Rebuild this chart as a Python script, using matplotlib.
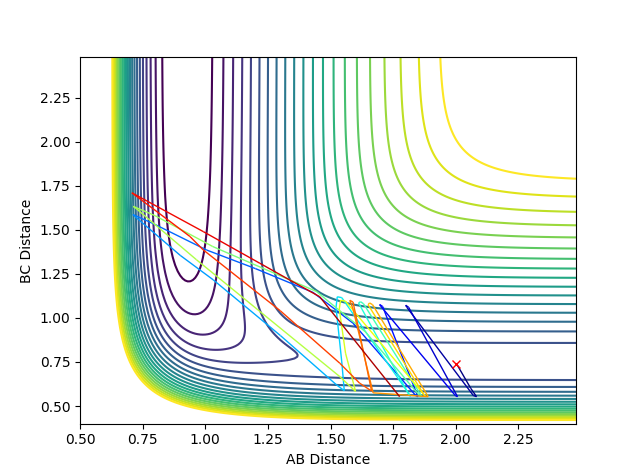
import numpy as np
import matplotlib
matplotlib.use("Agg")
import matplotlib.pyplot as plt
from matplotlib.collections import LineCollection

# ---- LEPS surface parameters (F + H2: AB = F-H, BC = H-H, AC = F-H) ----
D_HF, BETA_HF, RE_HF, SATO_HF = 5.97, 2.2187, 0.917, 0.19
D_HH, BETA_HH, RE_HH, SATO_HH = 4.7466, 1.942, 0.7417, 0.13

ab_grid = np.linspace(0.5, 2.48, 199)
bc_grid = np.linspace(0.4, 2.48, 209)

n_levels = 21
edge_ab = 2.48
edge_bc_level5 = 0.858
edge_bc_level20 = 1.79

# ---- trajectory (AB, BC), with colour fraction (jet) ----
traj_ab = [2.003, 2.060, 2.083, 2.070, 1.805, 1.800, 1.812, 2.007,
           1.998, 1.700, 1.696, 1.708, 1.849,
           1.840, 1.590, 1.430, 1.200, 1.006, 0.800, 0.711, 0.720,
           0.900, 1.032, 1.300, 1.524, 1.555,
           1.545, 1.522, 1.527, 1.545, 1.820,
           1.815, 1.612, 1.620, 1.632, 1.865,
           1.855, 1.640, 1.444, 1.030, 0.800, 0.7126, 0.725,
           0.965, 1.537, 1.600,
           1.560, 1.535, 1.540, 1.560, 1.880,
           1.875, 1.650, 1.656, 1.668, 1.890,
           1.670, 1.590, 1.577, 1.590, 1.664,
           1.616, 1.537, 1.300, 0.992, 0.939, 0.707, 0.720,
           0.992, 1.218, 1.457, 1.776]
traj_bc = [0.740, 0.600, 0.553, 0.560, 1.060, 1.072, 1.060, 0.553,
           0.560, 1.068, 1.076, 1.065, 0.553,
           0.560, 0.970, 1.145, 1.280, 1.385, 1.530, 1.587, 1.575,
           1.355, 1.216, 0.900, 0.620, 0.587,
           0.750, 1.060, 1.120, 1.115, 0.555,
           0.560, 1.085, 1.092, 1.080, 0.553,
           0.560, 0.920, 1.150, 1.405, 1.580, 1.633, 1.620,
           1.330, 0.667, 0.583,
           0.800, 1.050, 1.100, 1.095, 0.553,
           0.560, 1.075, 1.085, 1.075, 0.553,
           0.575, 1.050, 1.100, 1.090, 0.585,
           0.630, 0.743, 1.040, 1.386, 1.462, 1.710, 1.700,
           1.490, 1.310, 1.120, 0.553]
traj_time = [0.00, 0.01, 0.02, 0.03, 0.05, 0.06, 0.07, 0.09,
             0.10, 0.12, 0.13, 0.14, 0.16,
             0.17, 0.19, 0.21, 0.22, 0.23, 0.245, 0.26, 0.27,
             0.28, 0.29, 0.30, 0.31, 0.32,
             0.33, 0.34, 0.35, 0.36, 0.38,
             0.39, 0.41, 0.42, 0.43, 0.45,
             0.46, 0.48, 0.50, 0.53, 0.545, 0.55, 0.56,
             0.57, 0.59, 0.60,
             0.61, 0.62, 0.63, 0.64, 0.67,
             0.68, 0.71, 0.72, 0.73, 0.75,
             0.77, 0.78, 0.79, 0.80, 0.82,
             0.83, 0.84, 0.85, 0.87, 0.88, 0.89, 0.90,
             0.91, 0.93, 0.96, 1.00]

start_ab, start_bc = 2.0, 0.74


def coulomb_exchange(r, D, beta, re, k):
    e = np.exp(-beta * (r - re))
    Q = D / 4.0 * ((3 + k) * e ** 2 - (2 + 6 * k) * e)
    J = D / 4.0 * ((1 + 3 * k) * e ** 2 - (6 + 2 * k) * e)
    return Q / (1 + k), J / (1 + k)


def leps(rab, rbc):
    rac = rab + rbc
    qa, ja = coulomb_exchange(rab, D_HF, BETA_HF, RE_HF, SATO_HF)
    qb, jb = coulomb_exchange(rbc, D_HH, BETA_HH, RE_HH, SATO_HH)
    qc, jc = coulomb_exchange(rac, D_HF, BETA_HF, RE_HF, SATO_HF)
    rad = ja ** 2 + jb ** 2 + jc ** 2 - ja * jb - jb * jc - ja * jc
    return qa + qb + qc - np.sqrt(np.maximum(rad, 0))


AB, BC = np.meshgrid(ab_grid, bc_grid)
V = leps(AB, BC)

v5 = leps(edge_ab, edge_bc_level5)
v20 = leps(edge_ab, edge_bc_level20)
step = (v20 - v5) / 15.0
levels = v5 + step * (np.arange(n_levels) - 5)

fig = plt.figure(figsize=(6.4, 4.76), dpi=100)
ax = fig.add_subplot(111)
ax.contour(AB, BC, V, levels=levels, cmap="viridis")

pts = np.column_stack([traj_ab, traj_bc])
segs = np.stack([pts[:-1], pts[1:]], axis=1)
lc = LineCollection(segs, cmap="jet", linewidths=1.0)
lc.set_array(np.asarray(traj_time[:-1]))
lc.set_clim(0, 1)
ax.add_collection(lc)

ax.plot([start_ab], [start_bc], "rx", markersize=6)

ax.set_xlabel("AB Distance")
ax.set_ylabel("BC Distance")

fig.savefig("out.png", dpi=100)
